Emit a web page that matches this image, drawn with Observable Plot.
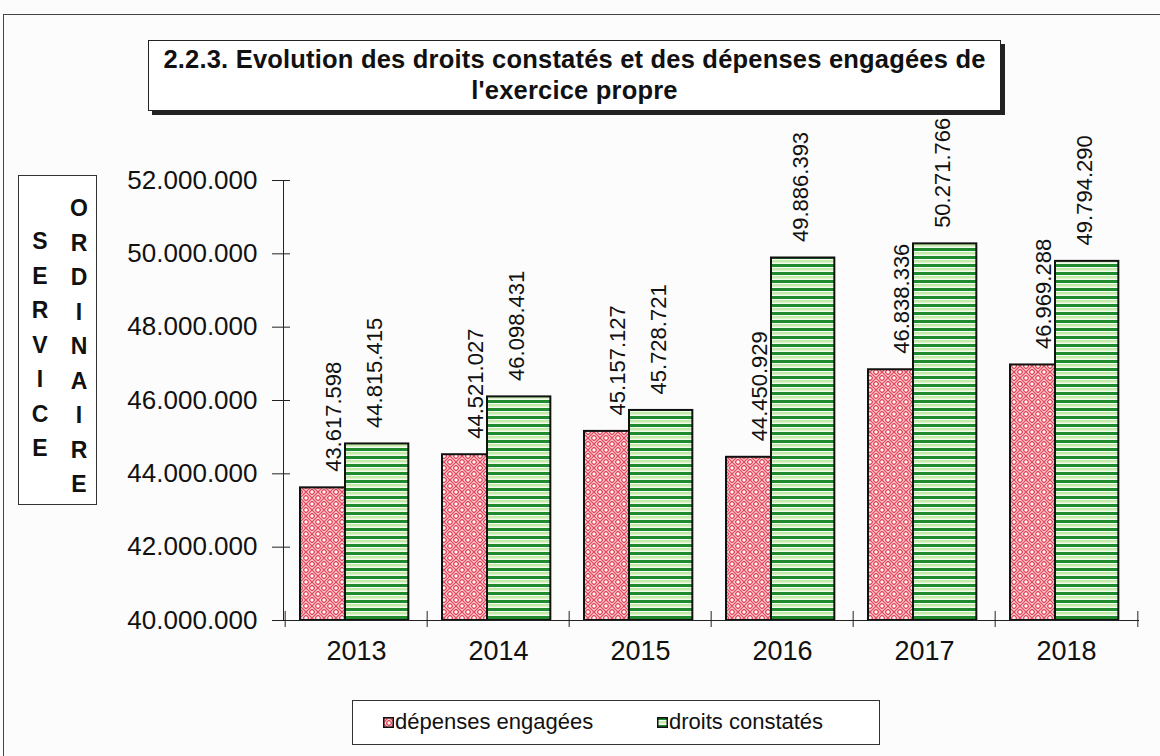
<!DOCTYPE html>
<html><head><meta charset="utf-8">
<script src="https://cdn.jsdelivr.net/npm/d3@7"></script>
<script src="https://cdn.jsdelivr.net/npm/@observablehq/plot@0.6"></script>
<style>
body{margin:0;background:#fcfcfc;font-family:"Liberation Sans",Arial,sans-serif;color:#111;}
#wrap{position:relative;width:1160px;height:756px;overflow:hidden;}
#outer{position:absolute;left:3px;top:14px;width:1200px;height:800px;border:1.5px solid #444;}
#title{position:absolute;left:148px;top:40px;width:853px;height:71px;border:1.5px solid #222;box-shadow:4px 4px 0 #222;background:#fff;text-align:center;font-weight:bold;font-size:25.5px;line-height:31px;padding-top:3px;box-sizing:border-box;letter-spacing:0.2px;}
#side{position:absolute;left:18px;top:175px;width:79px;height:330px;border:1px solid #333;background:#fff;box-sizing:border-box;font-weight:bold;font-size:23px;}
#side .col{position:absolute;width:30px;text-align:center;line-height:34.5px;}
#legend{position:absolute;left:352px;top:700px;width:528px;height:45px;border:1px solid #333;background:#fff;box-sizing:border-box;font-size:22px;}
#legend .sw{position:absolute;top:16px;width:11px;height:11px;}
#legend .lt{position:absolute;top:8px;}
#chart{position:absolute;left:0;top:0;}
</style></head>
<body>
<svg width="0" height="0" style="position:absolute">
 <defs>
  <pattern id="redPat" patternUnits="userSpaceOnUse" width="12" height="12">
   <rect width="12" height="12" fill="#fff4f4"/>
   <path d="M0,3 L3,0 M0,6 L6,0 M3,6 L6,3 M6,0 L9,3 M6,3 L9,6 M9,0 L12,3 M6,0 L12,6 M0,6 L6,12 M0,9 L3,12 M3,6 L6,9 M6,12 L12,6 M9,12 L12,9 M6,9 L9,6" fill="none" stroke="#e6485b" stroke-width="1.4"/>
  </pattern>
  <pattern id="greenPat" patternUnits="userSpaceOnUse" width="10" height="8">
   <rect width="10" height="8" fill="#f4fbee"/>
   <rect y="0" width="10" height="3" fill="#1f8a2d"/>
   <rect y="4" width="10" height="2.5" fill="#c3eba9"/>
  </pattern>
 </defs>
</svg>
<div id="wrap">
 <div id="outer"></div>
 <div id="chart"></div>
 <div id="title">2.2.3. Evolution des droits constatés et des dépenses engagées de<br>l'exercice propre</div>
 <div id="side"></div>
 <div id="legend"></div>
</div>
<script>
const years = ["2013","2014","2015","2016","2017","2018"];
const depenses = [43617598, 44521027, 45157127, 44450929, 46838336, 46969288];
const droits = [44815415, 46098431, 45728721, 49886393, 50271766, 49794290];
const yTicks = [40000000, 42000000, 44000000, 46000000, 48000000, 50000000, 52000000];
const seriesNames = ["dépenses engagées", "droits constatés"];
const sideWords = ["SERVICE", "ORDINAIRE"];

const W = 1160, H = 700, ML = 283, MR = 21, MT = 180, MB = 80;
const step = (W - ML - MR) / years.length;
const fmt = v => d3.format(",")(v).replace(/,/g, ".");
const base = yTicks[0];
const dep = years.map((year, i) => ({year, value: depenses[i]}));
const dro = years.map((year, i) => ({year, value: droits[i]}));

const chart = Plot.plot({
  width: W, height: H, marginLeft: ML, marginRight: MR, marginTop: MT, marginBottom: MB,
  style: {background: "transparent", fontFamily: "Liberation Sans, Arial, sans-serif", color: "#111", overflow: "visible"},
  x: {domain: years, padding: 0, label: null},
  y: {domain: [yTicks[0], yTicks[yTicks.length - 1]], label: null},
  marks: [
    Plot.barY(dep, {x: "year", y1: () => base, y2: "value", fill: "url(#redPat)", stroke: "#111", strokeWidth: 2, insetLeft: 15, insetRight: step - 79}),
    Plot.barY(dro, {x: "year", y1: () => base, y2: "value", fill: "url(#greenPat)", stroke: "#111", strokeWidth: 2, insetLeft: 60, insetRight: step - 124}),
    Plot.text(dep, {x: "year", y: "value", text: d => fmt(d.value), rotate: -90, textAnchor: "start", lineAnchor: "middle", dx: -23, dy: -16, fontSize: 22, fill: "#111"}),
    Plot.text(dro, {x: "year", y: "value", text: d => fmt(d.value), rotate: -90, textAnchor: "start", lineAnchor: "middle", dx: 18, dy: -16, fontSize: 22, fill: "#111"}),
    Plot.frame({anchor: "left", stroke: "#222"}),
    Plot.ruleY([base], {stroke: "#222"}),
    Plot.axisY({ticks: yTicks, tickSize: 0, tickPadding: 26, tickFormat: fmt, fontSize: 26, label: null}),
    Plot.axisY({ticks: yTicks, tickSize: 18, dx: 7, tickFormat: () => "", label: null, stroke: "#222"}),
    Plot.axisX({tickSize: 0, tickPadding: 20, fontSize: 27, label: null}),
    Plot.axisX({ticks: years, tickSize: 16, dy: -9, dx: -step / 2, tickFormat: () => "", label: null, stroke: "#222"}),
    Plot.axisX({ticks: [years[years.length - 1]], tickSize: 16, dy: -9, dx: step / 2, tickFormat: () => "", label: null, stroke: "#222"})
  ]
});
document.getElementById("chart").appendChild(chart);

// side box
const side = document.getElementById("side");
const colSpec = [{left: 6, top: 48}, {left: 45, top: 15}];
sideWords.forEach((w, k) => {
  const c = document.createElement("div");
  c.className = "col";
  c.style.left = colSpec[k].left + "px";
  c.style.top = colSpec[k].top + "px";
  c.innerHTML = w.split("").join("<br>");
  side.appendChild(c);
});

// legend
const legend = document.getElementById("legend");
const legSpec = [{sw: 30, txt: 42, pat: "redPat"}, {sw: 304, txt: 316, pat: "greenPat"}];
seriesNames.forEach((n, k) => {
  const s = document.createElementNS("http://www.w3.org/2000/svg", "svg");
  s.setAttribute("class", "sw");
  s.setAttribute("width", 11); s.setAttribute("height", 11);
  s.style.left = legSpec[k].sw + "px";
  s.innerHTML = `<rect x="0.75" y="0.75" width="9.5" height="9.5" fill="url(#${legSpec[k].pat})" stroke="#111" stroke-width="1.5"/>`;
  legend.appendChild(s);
  const t = document.createElement("div");
  t.className = "lt";
  t.style.left = legSpec[k].txt + "px";
  t.textContent = n;
  legend.appendChild(t);
});
</script>
</body></html>
